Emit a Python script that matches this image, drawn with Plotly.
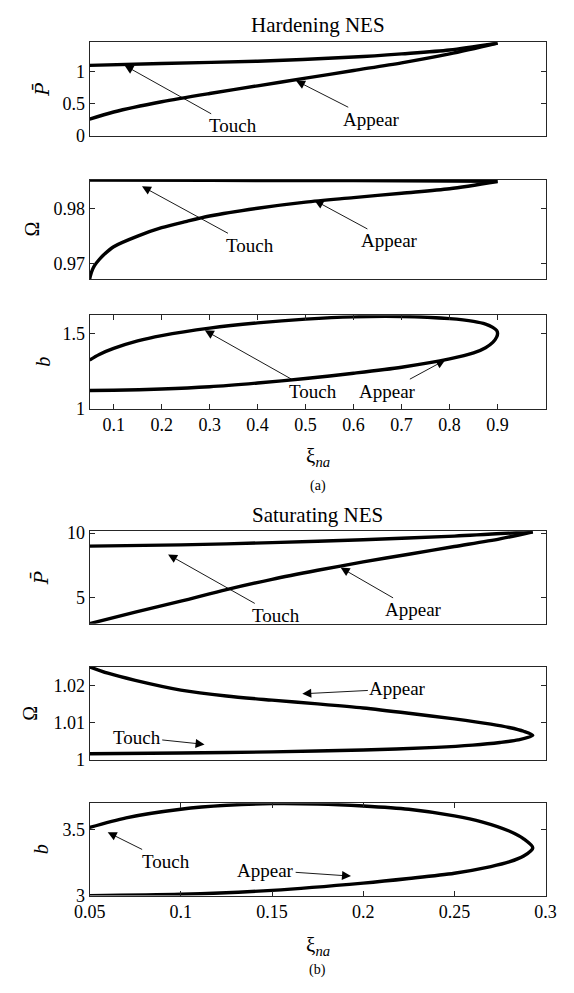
import plotly.graph_objects as go

# ---------------- data ----------------
# (a) Hardening NES
h_touch_xi = [0.05, 0.2, 0.4, 0.6, 0.7, 0.8, 0.9]
h_touch_P = [1.10, 1.13, 1.165, 1.23, 1.28, 1.34, 1.45]
h_appear_xi = [0.05, 0.1, 0.2, 0.3, 0.4, 0.5, 0.6, 0.7, 0.8, 0.9]
h_appear_P = [0.26, 0.37, 0.53, 0.66, 0.78, 0.90, 1.02, 1.14, 1.28, 1.45]

h_touch_Om_xi = [0.05, 0.3, 0.6, 0.9]
h_touch_Om = [0.98505, 0.98500, 0.98495, 0.98485]
h_appear_Om_xi = [0.05, 0.052, 0.055, 0.06, 0.07, 0.08, 0.1, 0.15, 0.2, 0.25, 0.3, 0.4, 0.5, 0.6, 0.7, 0.8, 0.9]
h_appear_Om = [0.9673, 0.9680, 0.9688, 0.9697, 0.9708, 0.9717, 0.9731, 0.9750, 0.9765, 0.9776, 0.9786,
               0.9800, 0.9811, 0.9819, 0.9827, 0.9835, 0.9848]

h_touch_b_xi = [0.05, 0.07, 0.1, 0.15, 0.2, 0.3, 0.4, 0.5, 0.6, 0.7, 0.8, 0.85, 0.875, 0.89, 0.898, 0.9]
h_touch_b = [1.323, 1.36, 1.40, 1.45, 1.485, 1.535, 1.57, 1.595, 1.61, 1.612, 1.598, 1.58, 1.562, 1.54, 1.52, 1.50]
h_appear_b_xi = [0.05, 0.1, 0.2, 0.3, 0.4, 0.5, 0.6, 0.7, 0.8, 0.85, 0.875, 0.89, 0.898, 0.9]
h_appear_b = [1.12, 1.122, 1.13, 1.145, 1.17, 1.20, 1.235, 1.275, 1.33, 1.37, 1.405, 1.44, 1.475, 1.50]

# (b) Saturating NES
s_touch_xi = [0.05, 0.1, 0.15, 0.2, 0.25, 0.293]
s_touch_P = [8.98, 9.08, 9.25, 9.48, 9.76, 10.1]
s_appear_xi = [0.05, 0.075, 0.1, 0.125, 0.15, 0.175, 0.2, 0.225, 0.25, 0.275, 0.293]
s_appear_P = [2.95, 3.85, 4.7, 5.6, 6.4, 7.1, 7.75, 8.35, 8.95, 9.55, 10.1]

s_upper_Om_xi = [0.05, 0.06, 0.075, 0.1, 0.125, 0.15, 0.175, 0.2, 0.225, 0.25, 0.27, 0.28, 0.288, 0.293]
s_upper_Om = [1.0249, 1.0232, 1.0213, 1.0187, 1.0171, 1.0160, 1.0150, 1.0139, 1.0125, 1.0110,
              1.0096, 1.0087, 1.0077, 1.0066]
s_lower_Om_xi = [0.05, 0.1, 0.15, 0.2, 0.24, 0.26, 0.275, 0.285, 0.293]
s_lower_Om = [1.0017, 1.0019, 1.0022, 1.0027, 1.0034, 1.0040, 1.0047, 1.0054, 1.0066]

s_upper_b_xi = [0.05, 0.07, 0.1, 0.125, 0.15, 0.175, 0.2, 0.225, 0.25, 0.265, 0.28, 0.288, 0.293]
s_upper_b = [3.517, 3.59, 3.655, 3.685, 3.698, 3.695, 3.68, 3.655, 3.605, 3.56, 3.49, 3.43, 3.362]
s_lower_b_xi = [0.05, 0.1, 0.15, 0.2, 0.225, 0.25, 0.27, 0.28, 0.288, 0.293]
s_lower_b = [3.0, 3.01, 3.04, 3.095, 3.13, 3.17, 3.22, 3.255, 3.30, 3.362]

xa_ticks = [0.1, 0.2, 0.3, 0.4, 0.5, 0.6, 0.7, 0.8, 0.9]
xb_ticks = [0.05, 0.1, 0.15, 0.2, 0.25, 0.3]

# ---------------- figure ----------------
W, H = 574, 993
FONT = "Liberation Serif, Times New Roman, DejaVu Serif, serif"
AX = "#262626"
XL, XR = 77.3, 555.7
XC = (XL + XR) / 2


def ydom(top, bottom):
    return [1 - bottom / H, 1 - top / H]


def loop(ux, uy, lx, ly):
    # one closed branch: upper branch then lower branch back (shared turning point)
    return list(ux) + list(reversed(lx[:-1])), list(uy) + list(reversed(ly[:-1]))


xdom = [XL / W, XR / W]
PBAR = "<i>P̄</i>"
panels = [
    dict(top=35, bottom=130, yr=[0, 1.46], yt=[0, 0.5, 1], ytt=["0", "0.5", "1"], lab=PBAR, labx=27, xr=[0.05, 1.0], xt=xa_ticks, lastx=False),
    dict(top=175, bottom=276, yr=[0.9673, 0.9851], yt=[0.97, 0.98], ytt=["0.97", "0.98"], lab="Ω", labx=17, xr=[0.05, 1.0], xt=xa_ticks, lastx=False),
    dict(top=313, bottom=408, yr=[1, 1.62], yt=[1, 1.5], ytt=["1", "1.5"], lab="<i>b</i>", labx=28, xr=[0.05, 1.0], xt=xa_ticks, lastx=True),
    dict(top=533, bottom=627, yr=[2.95, 10.13], yt=[5, 10], ytt=["5", "10"], lab=PBAR, labx=26, xr=[0.05, 0.3], xt=xb_ticks, lastx=False),
    dict(top=671, bottom=766, yr=[1.0, 1.0249], yt=[1.0, 1.01, 1.02], ytt=["1", "1.01", "1.02"], lab="Ω", labx=15, xr=[0.05, 0.3], xt=xb_ticks, lastx=False),
    dict(top=810, bottom=904, yr=[3.0, 3.70], yt=[3, 3.5], ytt=["3", "3.5"], lab="<i>b</i>", labx=27, xr=[0.05, 0.3], xt=xb_ticks, lastx=True),
]

fig = go.Figure()
series = [
    [(h_touch_xi, h_touch_P), (h_appear_xi, h_appear_P)],
    [(h_touch_Om_xi, h_touch_Om), (h_appear_Om_xi, h_appear_Om)],
    [loop(h_touch_b_xi, h_touch_b, h_appear_b_xi, h_appear_b)],
    [(s_touch_xi, s_touch_P), (s_appear_xi, s_appear_P)],
    [loop(s_upper_Om_xi, s_upper_Om, s_lower_Om_xi, s_lower_Om)],
    [loop(s_upper_b_xi, s_upper_b, s_lower_b_xi, s_lower_b)],
]

ann = []
layout = {}
for i, (p, ser) in enumerate(zip(panels, series)):
    n = "" if i == 0 else str(i + 1)
    for xs, ys in ser:
        fig.add_trace(go.Scatter(x=xs, y=ys, mode="lines", xaxis="x" + n, yaxis="y" + n,
                                 line=dict(color="black", width=3.4, shape="spline", smoothing=0.8),
                                 showlegend=False, hoverinfo="skip"))
    layout["xaxis" + n] = dict(
        domain=xdom, anchor="y" + n, range=p["xr"], showline=True, mirror="ticks" if p["lastx"] else True,
        linecolor=AX, linewidth=1, ticks="inside" if p["lastx"] else "", ticklen=5, tickcolor=AX,
        tickvals=p["xt"], showticklabels=p["lastx"], showgrid=False, zeroline=False,
        tickfont=dict(family=FONT, size=18, color="black"),
    )
    layout["yaxis" + n] = dict(
        domain=ydom(p["top"], p["bottom"]), anchor="x" + n, range=p["yr"], showline=True, mirror="ticks",
        linecolor=AX, linewidth=1, ticks="inside", ticklen=5, tickcolor=AX,
        tickvals=p["yt"], ticktext=p["ytt"], showgrid=False, zeroline=False,
        tickfont=dict(family=FONT, size=18, color="black"),
    )
    # y-axis label as rotated text
    lab_font = "DejaVu Serif" if p["lab"] == PBAR else FONT
    ann.append(dict(text=p["lab"], x=p["labx"] / W, y=1 - (p["top"] + p["bottom"]) / 2 / H,
                    xref="paper", yref="paper", showarrow=False, textangle=-90,
                    xanchor="center", yanchor="middle",
                    font=dict(family=lab_font, size=19 if p["lab"] == PBAR else 20, color="black")))


def arrow(text, ref, x, y, ax, ay):
    ann.append(dict(text=text, x=x, y=y, ax=ax, ay=ay, xref="x" + ref, yref="y" + ref,
                    axref="x" + ref, ayref="y" + ref, showarrow=True, arrowhead=2, arrowsize=2.0,
                    arrowwidth=0.9, arrowcolor="black", font=dict(family=FONT, size=19, color="black")))


arrow("Touch", "", 0.1225, 1.10, 0.348, 0.154)
arrow("Appear", "", 0.48, 0.86, 0.638, 0.257)
arrow("Touch", "2", 0.159, 0.98393, 0.384, 0.97335)
arrow("Appear", "2", 0.5185, 0.98141, 0.675, 0.97413)
arrow("Touch", "3", 0.29, 1.52, 0.515, 1.116)
arrow("Appear", "3", 0.791, 1.323, 0.671, 1.116)
arrow("Touch", "4", 0.093, 8.33, 0.1522, 3.59)
arrow("Appear", "4", 0.1876, 7.31, 0.2278, 4.02)
arrow("Appear", "5", 0.1666, 1.0177, 0.219, 1.019)
arrow("Touch", "5", 0.113, 1.0042, 0.0758, 1.0061)
arrow("Touch", "6", 0.0599, 3.48, 0.092, 3.259)
arrow("Appear", "6", 0.1933, 3.148, 0.1465, 3.192)


def ptext(text, x, y, size=20):
    ann.append(dict(text=text, x=x / W, y=1 - y / H, xref="paper", yref="paper", showarrow=False,
                    xanchor="center", yanchor="middle", font=dict(family=FONT, size=size, color="black")))


ptext("Hardening NES", XC, 17, 21)
ptext("ξ<sub><i>na</i></sub>", XC, 457, 21)
ptext("(a)", XC, 487, 14)
ptext("Saturating NES", XC, 516, 21)
ptext("ξ<sub><i>na</i></sub>", XC, 955, 21)
ptext("(b)", XC, 980, 14)

fig.update_layout(width=W, height=H, autosize=False, margin=dict(l=0, r=0, t=0, b=0),
                  paper_bgcolor="white", plot_bgcolor="white", annotations=ann,
                  font=dict(family=FONT), **layout)
fig.write_html("out.html")
